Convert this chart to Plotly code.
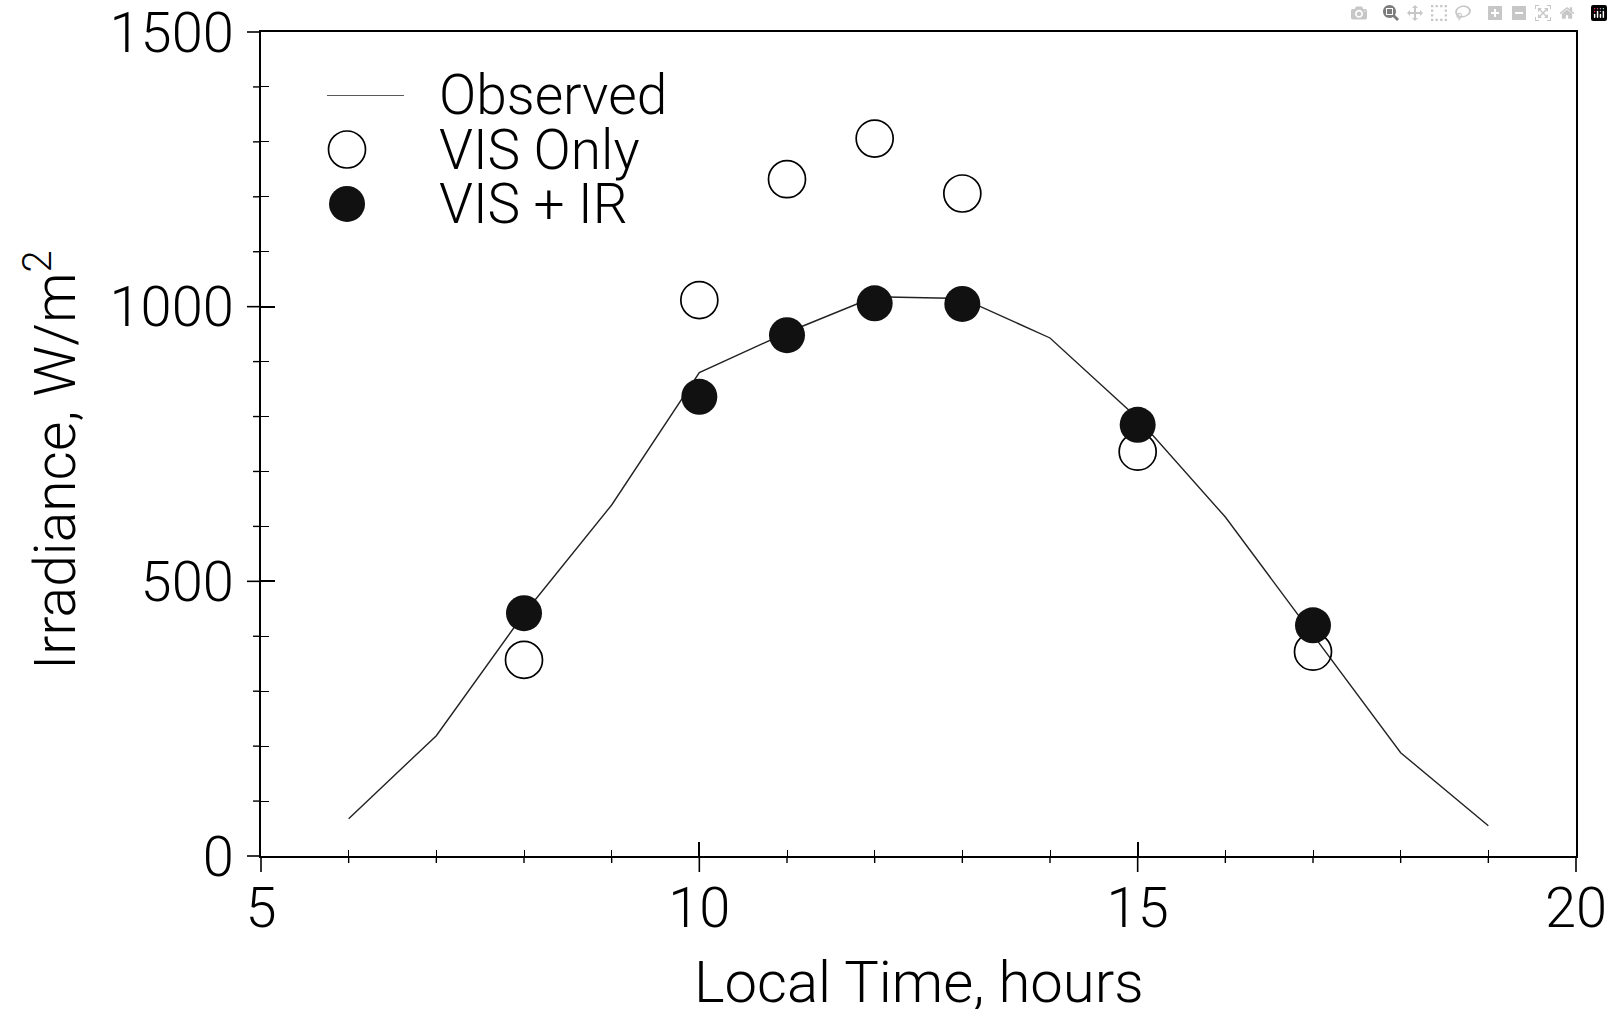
import plotly.graph_objects as go

# ---- data ----
hours_obs = [6, 7, 8, 9, 10, 11, 12, 13, 14, 15, 16, 17, 18, 19]
observed = [68, 219, 441, 639, 880, 953, 1018, 1015, 943, 797, 617, 402, 188, 55]

hours_model = [8, 10, 11, 12, 13, 15, 17]
vis_only = [357, 1012, 1232, 1306, 1206, 736, 372]
vis_ir = [442, 836, 948, 1006, 1005, 785, 420]

x_range = [5, 20]
y_range = [0, 1500]
x_major_step = 5
x_minor_step = 1
y_major_step = 500
y_minor_step = 100

legend_labels = ["Observed", "VIS Only", "VIS + IR"]
legend_rows = [2, 1, 0]

x_title = "Local Time, hours"
y_title = "Irradiance, W/m<sup>2</sup>"

FONT = dict(family="Roboto, Liberation Sans, Arial, sans-serif", color="black", weight=300)
INK = "black"

fig = go.Figure()

# Observed line
fig.add_trace(go.Scatter(
    x=hours_obs, y=observed, mode="lines", showlegend=False,
    line=dict(color="#222222", width=1.4),
))
# VIS only (open circles)
fig.add_trace(go.Scatter(
    x=hours_model, y=vis_only, mode="markers", showlegend=False,
    marker=dict(symbol="circle-open", size=37, color=INK, line=dict(width=1.7, color=INK)),
))
# VIS + IR (filled circles)
fig.add_trace(go.Scatter(
    x=hours_model, y=vis_ir, mode="markers", showlegend=False,
    marker=dict(symbol="circle", size=36, color="#111111", line=dict(width=0)),
))

# ---- hand-built legend on an auxiliary axis pair ----
fig.add_trace(go.Scatter(
    x=[0, 1], y=[legend_rows[0]] * 2, mode="lines", showlegend=False, cliponaxis=False,
    line=dict(color="#222222", width=1.4), xaxis="x3", yaxis="y3", hoverinfo="skip",
))
fig.add_trace(go.Scatter(
    x=[0.26], y=[legend_rows[1]], mode="markers", showlegend=False, cliponaxis=False,
    marker=dict(symbol="circle-open", size=37, color=INK, line=dict(width=1.7, color=INK)),
    xaxis="x3", yaxis="y3", hoverinfo="skip",
))
fig.add_trace(go.Scatter(
    x=[0.26], y=[legend_rows[2]], mode="markers", showlegend=False, cliponaxis=False,
    marker=dict(symbol="circle", size=36, color="#111111", line=dict(width=0)),
    xaxis="x3", yaxis="y3", hoverinfo="skip",
))

leg_y_domain = [0.7913, 0.9235]
for lab, row in zip(legend_labels, legend_rows):
    fig.add_annotation(
        text=lab, xref="paper", yref="paper", showarrow=False,
        x=0.134, xanchor="left",
        y=leg_y_domain[0] + (leg_y_domain[1] - leg_y_domain[0]) * row / 2, yanchor="middle",
        font=dict(size=55, **FONT),
    )

# axis titles as annotations (placed like the reference)
fig.add_annotation(
    text=y_title, xref="paper", yref="paper", showarrow=False,
    x=-0.159, y=0.4806, xanchor="center", yanchor="middle", textangle=-90,
    font=dict(size=57, **FONT),
)
fig.add_annotation(
    text=x_title, xref="paper", yref="paper", showarrow=False,
    x=0.5, y=-0.153, xanchor="center", yanchor="middle",
    font=dict(size=58, **FONT),
)

# ---- outer half of the crossing tick marks, at the axis tick values ----
def steps(lo, hi, step):
    vals, v = [], lo
    while v <= hi + 1e-9:
        vals.append(v)
        v += step
    return vals

def frac(v, rng):
    return (v - rng[0]) / (rng[1] - rng[0])

x_major = steps(x_range[0], x_range[1], x_major_step)
x_minor = [v for v in steps(x_range[0], x_range[1], x_minor_step) if v not in x_major]
y_major = steps(y_range[0], y_range[1], y_major_step)
y_minor = [v for v in steps(y_range[0], y_range[1], y_minor_step) if v not in y_major]

for v in x_major + x_minor:
    major = v in x_major
    f = frac(v, x_range)
    fig.add_shape(type="line", xref="paper", yref="paper", ysizemode="pixel", yanchor=0,
                  x0=f, x1=f, y0=-(16 if major else 7), y1=0,
                  line=dict(color=INK, width=1.6 if major else 1.4))
for v in y_major + y_minor:
    major = v in y_major
    f = frac(v, y_range)
    fig.add_shape(type="line", xref="paper", yref="paper", xsizemode="pixel", xanchor=0,
                  y0=f, y1=f, x0=-(14 if major else 8), x1=0,
                  line=dict(color=INK, width=1.6 if major else 1.4))

common_axis = dict(showgrid=False, zeroline=False, automargin=False)

fig.update_layout(
    width=1613, height=1009,
    margin=dict(l=261, r=37, t=32, b=153),
    paper_bgcolor="white", plot_bgcolor="white",
    font=dict(size=55, **FONT),
    xaxis=dict(
        domain=[0, 1], anchor="y",
        range=x_range, tick0=x_range[0], dtick=x_major_step,
        ticks="inside", ticklen=14, tickwidth=1.6, tickcolor=INK,
        minor=dict(tick0=x_range[0], dtick=x_minor_step, ticks="inside", ticklen=6, tickwidth=1.4, tickcolor=INK),
        showline=True, mirror=True, linewidth=2, linecolor=INK,
        tickfont=dict(size=56, **FONT), ticklabelstandoff=2, ticklabeloverflow="allow",
        **common_axis,
    ),
    yaxis=dict(
        domain=[0, 1], anchor="x",
        range=y_range, tick0=0, dtick=y_major_step,
        ticks="inside", ticklen=14, tickwidth=1.6, tickcolor=INK,
        minor=dict(tick0=0, dtick=y_minor_step, ticks="inside", ticklen=8, tickwidth=1.4, tickcolor=INK),
        showline=True, mirror=True, linewidth=2, linecolor=INK,
        tickfont=dict(size=56, **FONT), ticklabelstandoff=14, ticklabeloverflow="allow",
        **common_axis,
    ),
    xaxis3=dict(domain=[0.0502, 0.1087], range=[0, 1], anchor="y3", visible=False, fixedrange=True),
    yaxis3=dict(domain=leg_y_domain, range=[0, 2], anchor="x3", visible=False, fixedrange=True),
)

fig.write_html("out.html", post_script="document.body.style.margin='0';document.body.style.overflow='hidden';")
